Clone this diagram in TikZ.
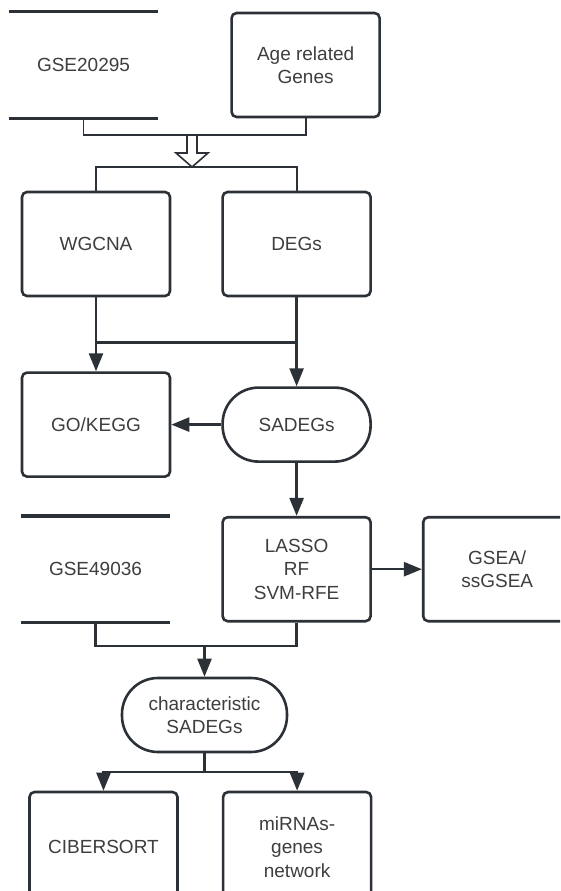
\documentclass[tikz,border=0pt]{standalone}
\usepackage{fontspec}
\setmainfont{Liberation Sans}
\usetikzlibrary{arrows.meta,positioning}
\definecolor{ink}{HTML}{2B3136}
\definecolor{label}{HTML}{3E3E3E}

\begin{document}
\begin{tikzpicture}[
    x=1pt, y=-1pt,
    node distance=50pt and 50pt,
    box/.style={draw=ink, line width=2.6pt, rounded corners=5pt, fill=white, text=label, align=center,
      minimum width=148pt, minimum height=104pt, inner sep=2pt, font=\fontsize{19}{23.5}\selectfont},
    term/.style={box, rounded corners=36pt, minimum height=74pt},
    store/.style={box, draw=none, fill=none},
    shelf/.style={line width=3.2pt, draw=ink},
    wire/.style={line width=2.5pt, draw=ink},
    thinwire/.style={line width=1.8pt, draw=ink},
    arrow/.style={wire, -{Triangle[length=18pt,width=14pt]}},
    hollow/.style={line width=1.6pt, draw=ink, fill=white, line join=miter}
  ]
    \useasboundingbox (0,0) rectangle (560,891);
    \clip (0,0) rectangle (560,891);

    % inputs
    \node[store, minimum width=147pt] (gseA) at (83.5,65) {GSE20295};
    \node[box, right=72pt of gseA] (age) {Age related\\Genes};
    \draw[shelf] (gseA.north west) -- (gseA.north east) (gseA.south west) -- (gseA.south east);

    \node[box] (wgcna) at (96,244) {WGCNA};
    \node[box, right=of wgcna] (degs) {DEGs};
    \node[box, below=74pt of wgcna] (gokegg) {GO/KEGG};
    \node[term, right=of gokegg] (sadegs) {SADEGs};
    \node[box, below=53pt of sadegs] (lasso) {LASSO\\RF\\SVM-RFE};
    \node[box, right=of lasso] (gsea) {GSEA/\\ssGSEA};
    \node[store, minimum width=147pt, left=51pt of lasso] (gseB) {GSE49036};
    \draw[shelf] (gseB.north west) -- (gseB.north east) (gseB.south west) -- (gseB.south east);

    \node[term, minimum width=165pt] (chars) at (204.5,715) {characteristic\\SADEGs};
    \node[box, minimum height=110pt] (cib) at (103.5,847) {CIBERSORT};
    \node[box, minimum height=110pt, right=43pt of cib] (mirna) {miRNAs-\\genes\\network};

    % merge of the two inputs
    \coordinate (merge) at (192,135);
    \coordinate (fan) at (192,167);
    \draw[thinwire] (gseA.south) |- (merge) -| (age.south);
    \draw[hollow] (merge) ++(-5,0) -- ++(0,18) -- ++(-11,0) -- ++(16,14) -- ++(16,-14) -- ++(-11,0) -- ++(0,-18) -- cycle;
    \draw[thinwire] (wgcna.north) |- (fan) -| (degs.north);

    \draw[wire] (wgcna.south) -- ++(0,45) -| (degs.south);
    \draw[arrow] (wgcna.south) -- (gokegg.north);
    \draw[arrow] (degs.south) -- (sadegs.north);
    \draw[arrow] (sadegs) -- (gokegg);
    \draw[arrow] (sadegs) -- (lasso);
    \draw[arrow] (lasso) -- (gsea);

    % validation set
    \coordinate (fork) at (204.5,646);
    \draw[wire] (gseB.south) |- (fork) -| (lasso.south);
    \draw[arrow] (fork) -- (chars.north);

    \coordinate (split) at (204.5,772);
    \draw[wire] (chars.south) -- (split);
    \draw[arrow] (split) -| (cib.north);
    \draw[arrow] (split) -| (mirna.north);
  \end{tikzpicture}
\end{document}
